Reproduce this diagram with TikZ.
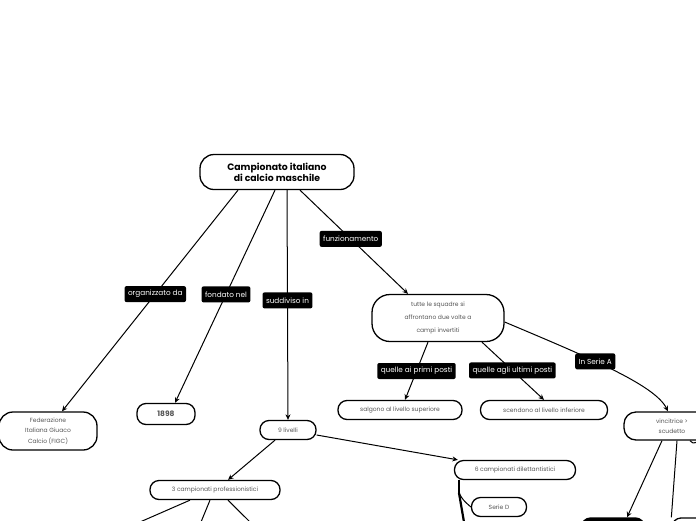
\documentclass[tikz,border=0pt]{standalone}
\usepackage{fontspec}
\setmainfont{Poppins}
\usepackage{tikz}
\usetikzlibrary{arrows.meta,calc}
\definecolor{textgray}{HTML}{555555}

\begin{document}
\begin{tikzpicture}[x=1pt,y=-1pt,
  topic/.style={draw=black,line width=1.3pt,rounded corners=9pt,fill=white,align=center,font=\fontsize{6}{10.5}\selectfont,text=textgray,inner sep=2pt},
  lbl/.style={fill=black,text=white,rounded corners=2pt,font=\fontsize{7.3}{8}\selectfont,inner sep=3.5pt,minimum height=16pt},
  arr/.style={-{Stealth[length=5.5pt,width=5pt]},line width=1pt},
  link/.style={line width=1pt}
]
\useasboundingbox (0,0) rectangle (696,520);
\clip (0,0) rectangle (696,520);
% topics
\node[topic,minimum width=154pt,minimum height=35pt,rounded corners=14pt,font=\bfseries\fontsize{9.3}{11}\selectfont,text=black] (title) at (277,172) {Campionato italiano\\di calcio maschile};
\node[topic,minimum width=98pt,minimum height=38pt,rounded corners=14pt,font=\fontsize{6}{10.5}\selectfont] (figc) at (48,431) {Federazione\\Italiana Giuaco\\Calcio (FIGC)};
\node[topic,minimum width=58pt,minimum height=21pt,font=\bfseries\fontsize{7.5}{9}\selectfont] (anno) at (166,414) {1898};
\node[topic,minimum width=56pt,minimum height=19pt] (livelli) at (288,430) {9 livelli};
\node[topic,minimum width=132pt,minimum height=47pt,rounded corners=18pt,font=\fontsize{6}{13}\selectfont] (turni) at (438,318) {tutte le squadre si\\affrontano due volte a\\campi invertiti};
\node[topic,minimum width=124pt,minimum height=19pt] (sale) at (400,410) {salgono al livello superiore};
\node[topic,minimum width=127pt,minimum height=19pt] (scende) at (544,410) {scendono al livello inferiore};
\node[topic,minimum width=96pt,minimum height=28pt,rounded corners=12pt] (scudetto) at (672,426) {vincitrice >\\scudetto};
\node[topic,minimum width=130pt,minimum height=19pt] (pro) at (215,490) {3 campionati professionistici};
\node[topic,minimum width=121pt,minimum height=19pt] (dil) at (515,470) {6 campionati dilettantistici};
\node[topic,minimum width=55pt,minimum height=19pt] (seried) at (499,507) {Serie D};
\node[topic,fill=black,minimum width=63pt,minimum height=20pt] (vinc1) at (613,528) {};
\node[topic,minimum width=60pt,minimum height=20pt] (vinc2) at (702,528) {};
% loose ends below the frame
\coordinate (pro1) at (140,522);
\coordinate (pro2) at (201,522);
\coordinate (pro3) at (250,522);
\coordinate (dilfork) at (459,493);
\coordinate (dilend) at (464,522);
\coordinate (scx) at (706,430);
% connectors
\draw[arr] ([xshift=-39pt]title.south) -- node[lbl,pos=0.47] (lorg) {organizzato da} ([xshift=14pt]figc.north);
\draw[arr] ([xshift=-2pt]title.south) -- node[lbl,pos=0.49] (lfond) {fondato nel} ([xshift=9pt]anno.north);
\draw[arr] ([xshift=10pt]title.south) -- node[lbl,pos=0.48] (lsudd) {suddiviso in} (livelli.north);
\draw[arr] ([xshift=23pt]title.south) -- node[lbl,pos=0.47] (lfunz) {funzionamento} ([xshift=-30pt]turni.north);
\draw[arr] ([xshift=-10pt]turni.south) -- node[lbl,pos=0.5] (lprimi) {quelle ai primi posti} ([xshift=5pt]sale.north);
\draw[arr] ([xshift=44pt]turni.south) -- node[lbl,pos=0.49] (lultimi) {quelle agli ultimi posti} (scende.north);
\draw[arr] ([yshift=-4pt]turni.east) .. controls (590,358) and (655,385) .. node[lbl,pos=0.4] (lseriea) {In Serie A} ([xshift=-4pt]scudetto.north);
\draw[arr] ([xshift=-13pt]livelli.south) -- ([xshift=13pt]pro.north);
\draw[arr] ([yshift=-5pt]livelli.east) -- ([xshift=4pt]dil.north west);
\draw[link] ([xshift=-25pt]pro.south) -- (pro1);
\draw[link] ([xshift=-5pt]pro.south) -- (pro2);
\draw[link] ([xshift=13pt]pro.south) -- (pro3);
\draw[line width=1.6pt] ([xshift=-56pt]dil.south) -- (dilfork);
\draw[link] (dilfork) .. controls (463,500) .. (seried.west);
\draw[line width=2.2pt] (dilfork) -- (dilend);
\draw[arr] ([xshift=-10pt]scudetto.south) -- ([xshift=14pt]vinc1.north);
\draw[link] ([xshift=5pt]scudetto.south) -- (vinc2.north west);
\draw[link] ([xshift=18pt]scudetto.south) .. controls (695,445) .. (scx);
\end{tikzpicture}
\end{document}
